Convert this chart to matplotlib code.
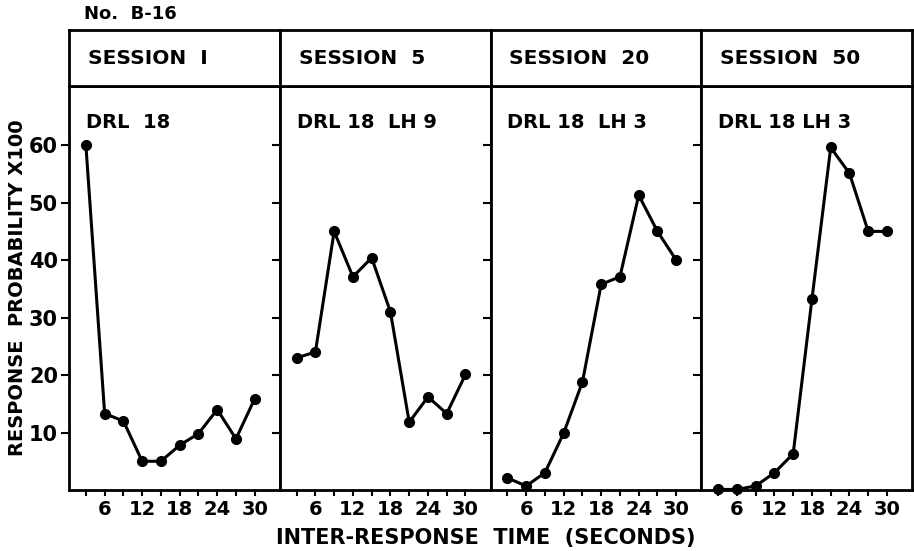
import matplotlib
matplotlib.use("Agg")
from matplotlib import pyplot as plt

# inter-response time bins (seconds)
irt = [3, 6, 9, 12, 15, 18, 21, 24, 27, 30]

# response probability x100 per session
session_1 = [60, 13.3, 12.0, 5.0, 5.0, 7.8, 9.8, 14.0, 8.9, 15.9]
session_5 = [23.0, 24.0, 45.0, 37.1, 40.4, 31.0, 11.8, 16.2, 13.3, 20.1]
session_20 = [2.1, 0.7, 3.0, 9.9, 18.8, 35.8, 37.1, 51.3, 45.0, 40.0]
session_50 = [0.1, 0.1, 0.7, 3.0, 6.3, 33.2, 59.6, 55.1, 45.0, 45.0]

titles = ['SESSION  I', 'SESSION  5', 'SESSION  20', 'SESSION  50']
schedules = ['DRL  18', 'DRL 18  LH 9', 'DRL 18  LH 3', 'DRL 18 LH 3']
series = [session_1, session_5, session_20, session_50]

y_ticks = [10, 20, 30, 40, 50, 60]
x_ticks = [3, 6, 9, 12, 15, 18, 21, 24, 27, 30]
x_labels = ['', '6', '', '12', '', '18', '', '24', '', '30']

plt.rcParams['font.family'] = ['DejaVu Sans']
plt.rcParams['font.weight'] = 'bold'

fig = plt.figure(figsize=(9.14, 5.51), dpi=100)

left, right = 69 / 914, 912 / 914
bottom, top = 1 - 490 / 551, 1 - 86 / 551
head_top = 1 - 30 / 551
width = (right - left) / 4

for i in range(4):
    x0 = left + i * width
    ax = fig.add_axes([x0, bottom, width, top - bottom])
    hd = fig.add_axes([x0, top, width, head_top - top])

    # header box with session name
    hd.set_xticks([])
    hd.set_yticks([])
    for sp in hd.spines.values():
        sp.set_linewidth(2)
    hd.text(0.09, 0.5, titles[i], transform=hd.transAxes, ha='left', va='center',
            fontsize=14.5, fontweight='bold')

    ax.plot(irt, series[i], color='black', linewidth=2.2, marker='o', markersize=7,
            clip_on=False)
    ax.set_xlim(0.3, 34)
    ax.set_ylim(0, 70.3)
    for sp in ax.spines.values():
        sp.set_linewidth(2)

    ax.text(0.08, 0.91, schedules[i], transform=ax.transAxes, ha='left', va='center',
            fontsize=14, fontweight='bold')

    ax.set_xticks(x_ticks)
    ax.set_xticklabels(x_labels, fontsize=14, fontweight='bold')
    ax.tick_params(axis='x', direction='out', length=4, width=1.5, pad=3)
    ax.set_yticks(y_ticks)
    ax.tick_params(axis='y', direction='out', length=6, width=1.5, pad=2)
    if i == 0:
        ax.set_yticklabels([str(v) for v in y_ticks], fontsize=15, fontweight='bold')
        ax.set_ylabel('RESPONSE  PROBABILITY X100', fontsize=14, fontweight='bold',
                      labelpad=1)
    else:
        ax.set_yticklabels([])

fig.text(left + 0.016, 1 - 14 / 551, 'No.  B-16', ha='left', va='center',
         fontsize=13, fontweight='bold')
fig.text(0.531, 1 - 538 / 551, 'INTER-RESPONSE  TIME  (SECONDS)', ha='center',
         va='center', fontsize=15, fontweight='bold')

plt.savefig('out.png', dpi=100)
